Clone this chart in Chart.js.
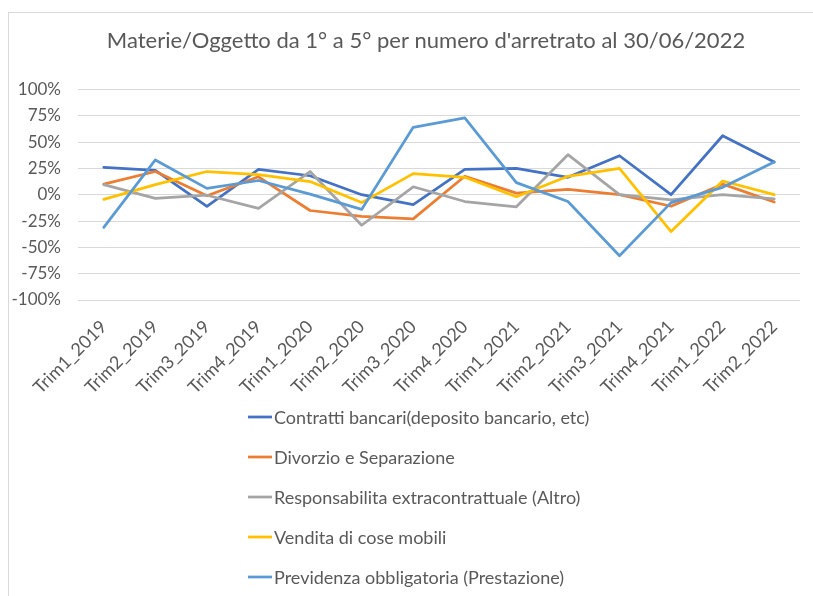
<!DOCTYPE html>
<html>
<head>
<meta charset="utf-8">
<script src="https://cdn.jsdelivr.net/npm/chart.js@4/dist/chart.umd.min.js"></script>
<style>
  html, body { margin: 0; padding: 0; background: #ffffff; }
  #wrap { width: 813px; height: 596px; }
</style>
</head>
<body>
<div id="wrap"><canvas id="c" width="813" height="596"></canvas></div>
<script>
const chartTitle = "Materie/Oggetto da 1° a 5° per numero d'arretrato al 30/06/2022";
const categories = ['Trim1_2019','Trim2_2019','Trim3_2019','Trim4_2019','Trim1_2020','Trim2_2020','Trim3_2020','Trim4_2020','Trim1_2021','Trim2_2021','Trim3_2021','Trim4_2021','Trim1_2022','Trim2_2022'];
const seriesNames = ['Contratti bancari(deposito bancario, etc)','Divorzio e Separazione','Responsabilita extracontrattuale (Altro)','Vendita di cose mobili','Previdenza obbligatoria (Prestazione)'];
const contratti      = [26, 23, -11, 24, 18, 0, -9.5, 24, 25, 16.5, 37, 0, 56, 31];
const divorzio       = [10, 22, -1, 17, -15, -20.5, -23, 17.5, 1.5, 5, 0, -11, 10, -7];
const responsabilita = [9.5, -3.5, -0.5, -13, 22, -29, 7.5, -6.5, -11.5, 38, 0, -5, 0, -4];
const vendita        = [-4.5, 9.5, 22, 19, 12.5, -7.5, 20, 16.5, -2, 17.5, 25, -35, 13, 0];
const previdenza     = [-31, 33, 6, 13.5, 0.5, -14, 64, 73, 11.5, -6.5, -58, -7.5, 7, 31];
const yTicks = [-100, -75, -50, -25, 0, 25, 50, 75, 100];
const colors = ['#4472C4', '#ED7D31', '#A5A5A5', '#FFC000', '#5B9BD5'];

const FONT = 'Lato, "Open Sans", sans-serif';
const TEXT = '#595959';

const seriesValues = [contratti, divorzio, responsabilita, vendita, previdenza];

const decor = {
  id: 'decor',
  beforeDraw(chart) {
    const ctx = chart.ctx;
    ctx.save();
    ctx.fillStyle = '#ffffff';
    ctx.fillRect(0, 0, chart.width, chart.height);
    ctx.strokeStyle = '#D9D9D9';
    ctx.lineWidth = 1;
    ctx.strokeRect(8.5, 12.5, chart.width + 50, chart.height + 50);
    ctx.restore();
  },
  afterLayout(chart) {
    if (chart.titleBlock) { chart.titleBlock.left = 52; }
  },
  afterDraw(chart) {
    const ctx = chart.ctx;
    ctx.save();
    ctx.font = '18px ' + FONT;
    ctx.textBaseline = 'middle';
    ctx.textAlign = 'left';
    chart.data.datasets.forEach((ds, i) => {
      const y = 417 + i * 40;
      ctx.strokeStyle = ds.borderColor;
      ctx.lineWidth = 2.75;
      ctx.lineCap = 'butt';
      ctx.beginPath();
      ctx.moveTo(248, y);
      ctx.lineTo(272, y);
      ctx.stroke();
      ctx.fillStyle = TEXT;
      ctx.fillText(ds.label, 274, y + 1);
    });
    ctx.restore();
  }
};

new Chart(document.getElementById('c'), {
  type: 'line',
  data: {
    labels: categories,
    datasets: seriesNames.map((name, i) => ({
      label: name,
      data: seriesValues[i],
      borderColor: colors[i],
      backgroundColor: colors[i],
      borderWidth: 2.75,
      pointRadius: 0,
      pointHoverRadius: 0,
      tension: 0,
      fill: false,
      borderJoinStyle: 'round',
      borderCapStyle: 'round',
      order: seriesNames.length - 1 - i
    }))
  },
  options: {
    responsive: false,
    animation: false,
    devicePixelRatio: 1,
    layout: { padding: { left: 8, right: 13, top: 12, bottom: 0 } },
    plugins: {
      legend: { display: false },
      tooltip: { enabled: false },
      title: {
        display: true,
        text: chartTitle,
        color: TEXT,
        font: { family: FONT, size: 22, weight: 'normal', lineHeight: 1.2 },
        padding: { top: 16, bottom: 35 }
      }
    },
    scales: {
      x: {
        offset: true,
        grid: { display: false, drawTicks: false },
        border: { display: false },
        ticks: {
          color: TEXT,
          font: { family: FONT, size: 18 },
          minRotation: 45,
          maxRotation: 45,
          autoSkip: false,
          padding: 16
        },
        afterFit(scale) { scale.height = 296; }
      },
      y: {
        min: -100,
        max: 100,
        afterBuildTicks(scale) { scale.ticks = yTicks.map(v => ({ value: v })); },
        grid: { color: '#D9D9D9', lineWidth: 1, drawTicks: false },
        border: { display: false },
        ticks: {
          color: TEXT,
          font: { family: FONT, size: 17 },
          padding: 17,
          callback: v => v + '%'
        },
        afterFit(scale) { scale.width = 70; }
      }
    }
  },
  plugins: [decor]
});
</script>
</body>
</html>
